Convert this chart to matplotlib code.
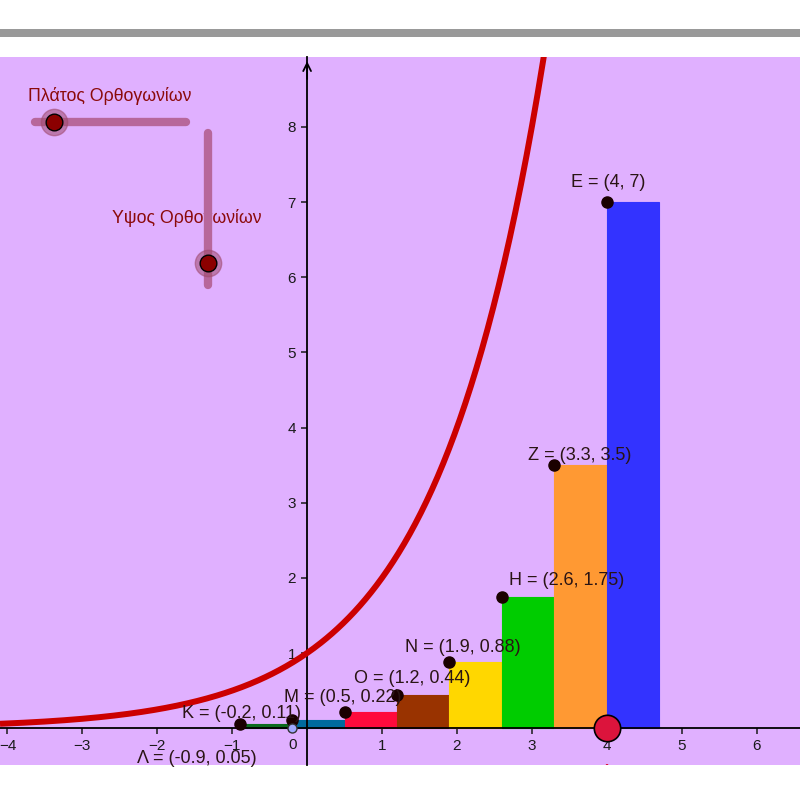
import numpy as np
import matplotlib
matplotlib.use('Agg')
import matplotlib.pyplot as plt
from matplotlib.patches import Rectangle

plt.rcParams['font.family'] = ['Liberation Sans', 'DejaVu Sans']

#%% data

point_names = ['Λ', 'K', 'M', 'O', 'N', 'H', 'Z', 'E']
x_left = [-0.9, -0.2, 0.5, 1.2, 1.9, 2.6, 3.3, 4]
heights = [0.05, 0.11, 0.22, 0.44, 0.88, 1.75, 3.5, 7]
rect_width = 0.7
rect_colors = ['#0b6b1e', '#006b9e', '#ff0a3c', '#993300', '#ffd700',
               '#00cc00', '#ff9933', '#3333ff']
# label offsets in pixels (dx, dy) relative to each point
label_offsets = [(-103, -34), (-110, 6), (-61, 14), (-43, 17), (-44, 15),
                 (7, 16), (-26, 10), (-36, 20)]

curve_base = 2.0
point_A = (4, 0)
point_light = (-0.2, 0)

xticks = [-4, -3, -2, -1, 1, 2, 3, 4, 5, 6]
yticks = [1, 2, 3, 4, 5, 6, 7, 8]

bg = '#e0b0ff'

#%% figure

fig = plt.figure(figsize=(8, 8), dpi=100)
fig.patch.set_facecolor('white')
fig.patches.append(Rectangle((0, 0.954), 1, 0.010, transform=fig.transFigure,
                             facecolor='#999999', edgecolor='none'))

ax = fig.add_axes([0, 0.04375, 1, 0.885])
ax.set_facecolor(bg)
ax.set_xlim(-4.1, 6.58)
ax.set_ylim(-0.49, 8.93)

# axes through origin
for s in ['top', 'right']:
    ax.spines[s].set_visible(False)
ax.spines['left'].set_position('zero')
ax.spines['bottom'].set_position('zero')
ax.spines['left'].set_linewidth(1.3)
ax.spines['bottom'].set_linewidth(1.3)
ax.set_xticks(xticks)
ax.set_yticks(yticks)
ax.tick_params(direction='out', length=4, width=1.1, labelsize=11,
               colors='#1a1a1a', pad=4)
ax.annotate('', xy=(0, 8.91), xytext=(0, 8.6),
            arrowprops=dict(arrowstyle='->', lw=1.3, color='black',
                            mutation_scale=14))
ax.annotate('0', xy=(-0.2, 0), xytext=(0, -10), textcoords='offset pixels',
            ha='center', va='top', fontsize=11, color='#1a1a1a')

# curve
xs = np.linspace(-4.1, 3.3, 400)
ax.plot(xs, curve_base ** xs, color='#cc0000', lw=4.3, zorder=3,
        solid_capstyle='butt')

# rectangles
for xl, h, c in zip(x_left, heights, rect_colors):
    ax.add_patch(Rectangle((xl, 0), rect_width, h, facecolor=c,
                           edgecolor=c, lw=0.8, zorder=2))

# points and labels
for name, xl, h, off in zip(point_names, x_left, heights, label_offsets):
    ax.plot(xl, h, 'o', ms=8, color='#1a0000', zorder=5)
    ax.annotate(f'{name} = ({xl:g}, {h:g})', xy=(xl, h), xytext=off,
                textcoords='offset pixels', ha='left', va='center',
                fontsize=13, color='#2a1414', zorder=6)

ax.plot(*point_light, 'o', ms=6.5, color='#a0a8ff', mec='#333333', mew=1,
        zorder=5)
ax.plot(*point_A, 'o', ms=19, color='#dc143c', mec='black', mew=1.2, zorder=6)
a_lbl = ax.annotate('A', xy=point_A, xytext=(0, -44),
                    textcoords='offset pixels', ha='center', va='center',
                    fontsize=13, color='#dc143c', annotation_clip=False)
a_lbl.set_clip_path(ax.patch)

# sliders (screen positioned)
slider_col = '#b7679b'
ax.plot([0.044, 0.232], [0.908, 0.908], color=slider_col, lw=6,
        solid_capstyle='round', transform=ax.transAxes, zorder=4)
ax.plot([0.26, 0.26], [0.893, 0.678], color=slider_col, lw=6,
        solid_capstyle='round', transform=ax.transAxes, zorder=4)
for px, py in [(0.0675, 0.908), (0.26, 0.709)]:
    ax.plot(px, py, 'o', ms=19, color='#a04a6e', alpha=0.55,
            transform=ax.transAxes, zorder=5)
    ax.plot(px, py, 'o', ms=12, color='#8b0000', mec='black', mew=1,
            transform=ax.transAxes, zorder=6)
ax.text(0.035, 0.945, 'Πλάτος Ορθογωνίων', transform=ax.transAxes,
        ha='left', va='center', fontsize=12.8, color='#8b0a0a')
ax.text(0.14, 0.773, 'Υψος Ορθογωνίων', transform=ax.transAxes,
        ha='left', va='center', fontsize=12.8, color='#8b0a0a')

fig.savefig('out.png', dpi=100, facecolor='white')
